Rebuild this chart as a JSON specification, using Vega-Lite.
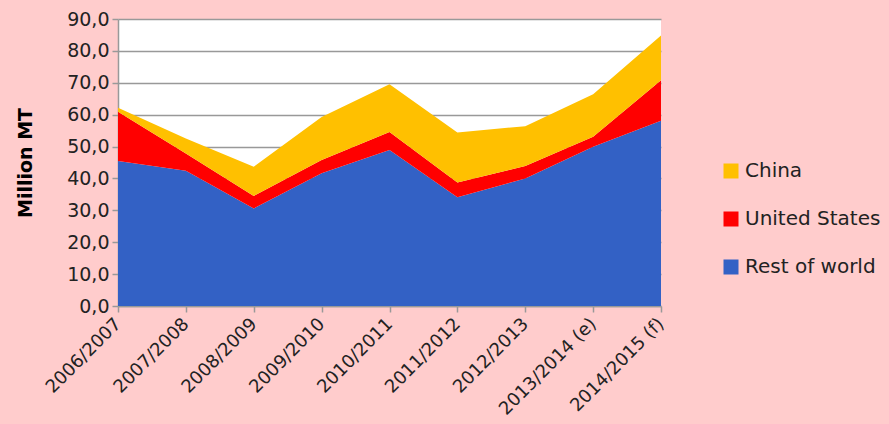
{
  "$schema": "https://vega.github.io/schema/vega-lite/v6.json",
  "width": 543,
  "height": 287,
  "autosize": {"type": "none"},
  "padding": {"left": 118, "top": 19, "right": 228, "bottom": 118},
  "background": "#FFCCCC",
  "config": {
    "view": {"fill": "white", "stroke": null},
    "font": "DejaVu Sans"
  },
  "data": {
    "values": [
      {"year": "2006/2007", "series": "Rest of world", "value": 45.5},
      {"year": "2007/2008", "series": "Rest of world", "value": 42.4},
      {"year": "2008/2009", "series": "Rest of world", "value": 30.6},
      {"year": "2009/2010", "series": "Rest of world", "value": 41.6},
      {"year": "2010/2011", "series": "Rest of world", "value": 48.9},
      {"year": "2011/2012", "series": "Rest of world", "value": 34.1},
      {"year": "2012/2013", "series": "Rest of world", "value": 40.0},
      {"year": "2013/2014 (e)", "series": "Rest of world", "value": 49.9},
      {"year": "2014/2015 (f)", "series": "Rest of world", "value": 58.1},
      {"year": "2006/2007", "series": "United States", "value": 15.4},
      {"year": "2007/2008", "series": "United States", "value": 5.4},
      {"year": "2008/2009", "series": "United States", "value": 3.9},
      {"year": "2009/2010", "series": "United States", "value": 4.2},
      {"year": "2010/2011", "series": "United States", "value": 5.7},
      {"year": "2011/2012", "series": "United States", "value": 4.6},
      {"year": "2012/2013", "series": "United States", "value": 3.9},
      {"year": "2013/2014 (e)", "series": "United States", "value": 3.2},
      {"year": "2014/2015 (f)", "series": "United States", "value": 12.7},
      {"year": "2006/2007", "series": "China", "value": 1.3},
      {"year": "2007/2008", "series": "China", "value": 4.7},
      {"year": "2008/2009", "series": "China", "value": 9.2},
      {"year": "2009/2010", "series": "China", "value": 13.5},
      {"year": "2010/2011", "series": "China", "value": 14.9},
      {"year": "2011/2012", "series": "China", "value": 15.7},
      {"year": "2012/2013", "series": "China", "value": 12.5},
      {"year": "2013/2014 (e)", "series": "China", "value": 13.3},
      {"year": "2014/2015 (f)", "series": "China", "value": 14.0}
    ]
  },
  "transform": [
    {"calculate": "indexof(['Rest of world','United States','China'], datum.series)", "as": "ord"}
  ],
  "mark": {"type": "area", "opacity": 1, "line": false},
  "encoding": {
    "x": {
      "field": "year",
      "type": "ordinal",
      "scale": {"type": "point", "padding": 0},
      "sort": null,
      "axis": {
        "title": null,
        "labelAngle": -45,
        "labelAlign": "right",
        "labelBaseline": "middle",
        "labelFontSize": 18,
        "labelColor": "#222222",
        "labelPadding": 9,
        "tickColor": "#999999",
        "tickSize": 6,
        "tickWidth": 1.5,
        "domainColor": "#999999",
        "domainWidth": 1.5,
        "grid": false
      }
    },
    "y": {
      "field": "value",
      "type": "quantitative",
      "stack": "zero",
      "scale": {"domain": [0, 90], "nice": false},
      "axis": {
        "values": [0, 10, 20, 30, 40, 50, 60, 70, 80, 90],
        "labelExpr": "replace(format(datum.value, '.1f'), '.', ',')",
        "title": "Million MT",
        "titleFontSize": 19,
        "titleFontWeight": "bold",
        "titleColor": "#000000",
        "titlePadding": 31,
        "labelFontSize": 19,
        "labelColor": "#222222",
        "labelPadding": 3,
        "tickColor": "#999999",
        "tickSize": 6,
        "tickWidth": 1.5,
        "domainColor": "#999999",
        "domainWidth": 1.5,
        "grid": true,
        "gridColor": "#999999",
        "gridWidth": 1.5
      }
    },
    "color": {
      "field": "series",
      "type": "nominal",
      "scale": {
        "domain": ["China", "United States", "Rest of world"],
        "range": ["#FFC000", "#FF0000", "#3361C5"]
      },
      "legend": {
        "title": null,
        "orient": "none",
        "legendX": 603,
        "legendY": 142,
        "padding": 0,
        "symbolType": "square",
        "symbolSize": 225,
        "symbolStrokeWidth": 0,
        "symbolOpacity": 1,
        "labelFontSize": 20,
        "labelColor": "#222222",
        "labelOffset": 4,
        "labelLimit": 300,
        "rowPadding": 28
      }
    },
    "order": {"field": "ord", "type": "quantitative"}
  }
}
